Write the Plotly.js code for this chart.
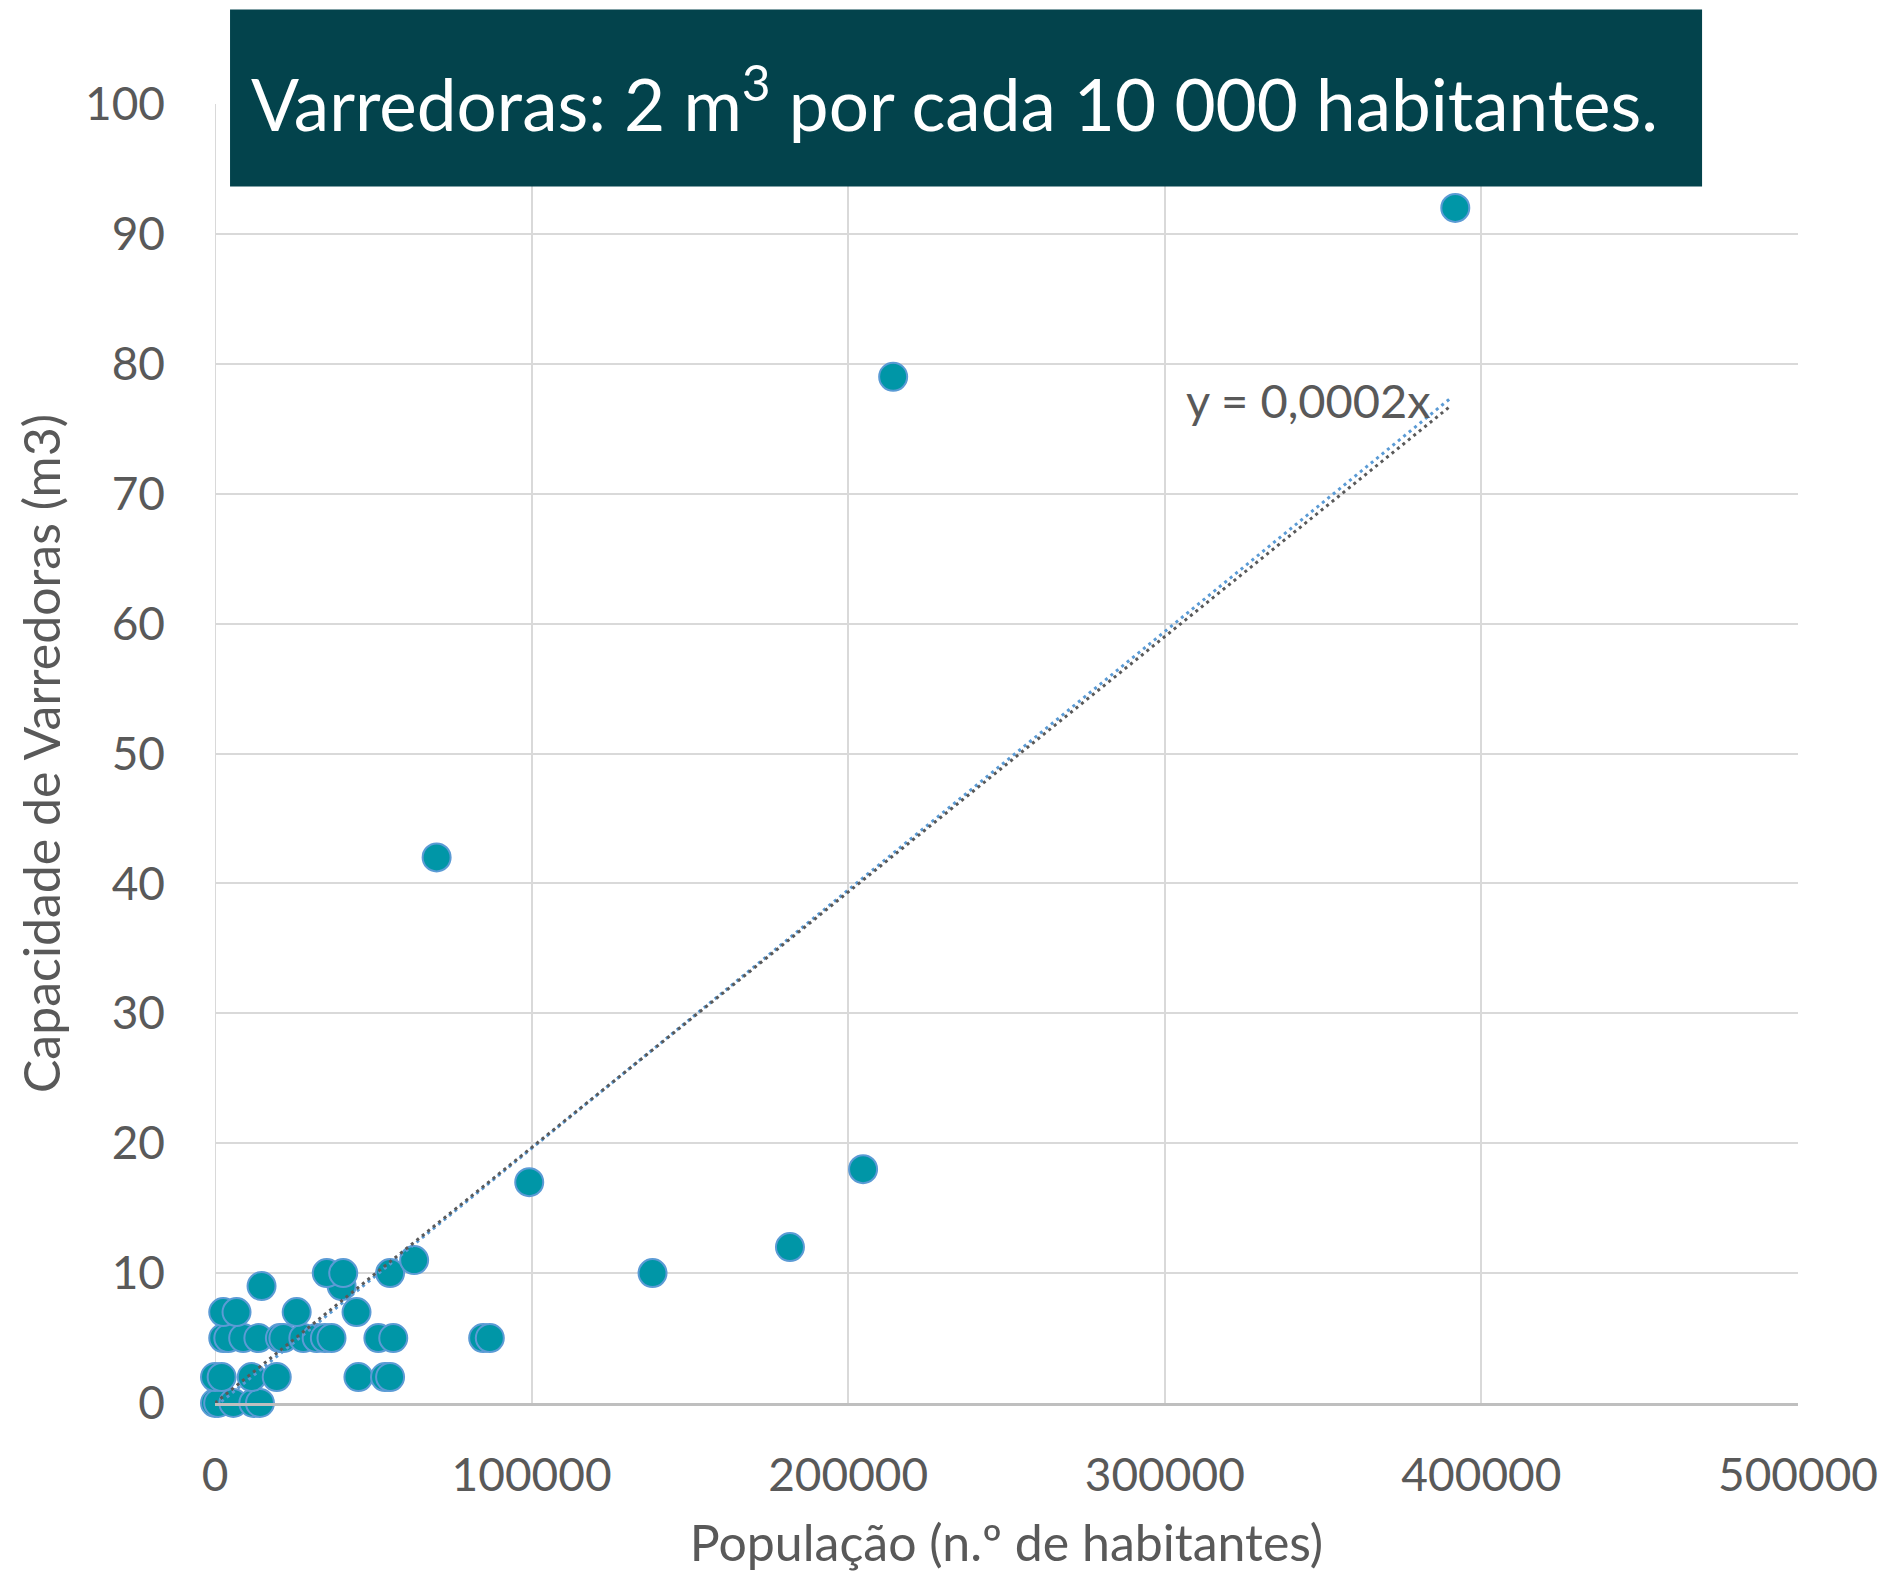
<!DOCTYPE html>
<html>
<head>
<meta charset="utf-8">
<script src="https://cdn.plot.ly/plotly-3.0.1.min.js"></script>
<style>html,body{margin:0;padding:0;background:#fff;}#chart{width:1888px;height:1574px;}</style>
</head>
<body>
<div id="chart"></div>
<script>
// Population (n.º de habitantes) and Varredoras capacity (m3)
const populacao = [0, 1000, 5800, 12100, 14200,
  0, 2100, 11600, 19500, 45300, 53700, 55300,
  2600, 4200, 8900, 13700, 20500, 21600, 27900, 32100, 34700, 36800, 51600, 56300, 84700, 86800,
  2600, 6800, 25800, 44700,
  14700, 40000,
  35300, 40500, 55300, 138200,
  62900, 181600, 99250, 204700, 70000, 214200, 391750];
const capacidade = [0, 0, 0, 0, 0,
  2, 2, 2, 2, 2, 2, 2,
  5, 5, 5, 5, 5, 5, 5, 5, 5, 5, 5, 5, 5, 5,
  7, 7, 7, 7,
  9, 9,
  10, 10, 10, 10,
  11, 12, 17, 18, 42, 79, 92];

// Trendline end points
const trendGrayX = [0, 390000];
const trendGrayY = [0, 76.7];
const trendBlueX = [2000, 390000];
const trendBlueY = [0.1, 77.3];

const xTicks = [0, 100000, 200000, 300000, 400000, 500000];
const yTicks = [0, 10, 20, 30, 40, 50, 60, 70, 80, 90, 100];

const titleText = 'Varredoras: 2 m<sup>3</sup> por cada 10 000 habitantes.';
const xTitle = 'População (n.º de habitantes)';
const yTitle = 'Capacidade de Varredoras (m3)';
const trendLabel = 'y = 0,0002x';

const FONT = 'Lato, "Open Sans", sans-serif';
const GRAY = '#595959';

const traces = [
  {
    type: 'scatter', mode: 'markers', x: populacao, y: capacidade,
    marker: {size: 28, color: '#0096A7', line: {color: '#5B9BD5', width: 2}},
    hoverinfo: 'skip', cliponaxis: false
  },
  {
    type: 'scatter', mode: 'lines', x: trendBlueX, y: trendBlueY,
    line: {color: '#5B9BD5', width: 3, dash: '3px,4px'}, hoverinfo: 'skip'
  },
  {
    type: 'scatter', mode: 'lines', x: trendGrayX, y: trendGrayY,
    line: {color: '#595959', width: 3, dash: '3px,4px'}, hoverinfo: 'skip'
  }
];

const layout = {
  width: 1888, height: 1574,
  margin: {l: 215, r: 90, t: 104, b: 171},
  paper_bgcolor: '#fff', plot_bgcolor: '#fff',
  showlegend: false,
  font: {family: FONT, color: GRAY, size: 44},
  xaxis: {
    range: [0, 500000], tickvals: xTicks, ticktext: xTicks.map(String),
    showgrid: true, gridcolor: '#D9D9D9', gridwidth: 2,
    zeroline: false, showline: true, linecolor: '#BFBFBF', linewidth: 3,
    ticks: '', tickfont: {size: 46, color: GRAY, family: FONT},
    ticklabelstandoff: 30,
    title: {text: xTitle, font: {size: 50, color: GRAY, family: FONT}, standoff: 26}
  },
  yaxis: {
    range: [0, 100], tickvals: yTicks, ticktext: yTicks.map(String),
    showgrid: true, gridcolor: '#D9D9D9', gridwidth: 2,
    zeroline: false, showline: false,
    ticks: '', tickfont: {size: 46, color: GRAY, family: FONT},
    ticklabelstandoff: 49,
    title: {text: yTitle, font: {size: 50, color: GRAY, family: FONT}, standoff: 8}
  },
  shapes: [
    {type: 'line', xref: 'x', yref: 'paper', x0: 0, x1: 0, y0: 0, y1: 1,
     line: {color: '#D9D9D9', width: 2}, layer: 'below'},
    {type: 'rect', xref: 'paper', yref: 'paper',
     x0: 0.0095, x1: 0.9394, y0: 0.9364, y1: 1.0727,
     fillcolor: '#03434C', line: {width: 0}, layer: 'above'}
  ],
  annotations: [
    {xref: 'paper', yref: 'paper', x: 0.0215, y: 1.004, xanchor: 'left', yanchor: 'middle',
     text: titleText, showarrow: false,
     font: {family: FONT, size: 71, color: '#FFFFFF'}},
    {xref: 'x', yref: 'y', x: 306000, y: 77.2, xanchor: 'left', yanchor: 'middle',
     text: trendLabel, showarrow: false,
     font: {family: FONT, size: 47, color: GRAY}}
  ]
};

Plotly.newPlot('chart', traces, layout, {staticPlot: true, displayModeBar: false});
</script>
</body>
</html>
